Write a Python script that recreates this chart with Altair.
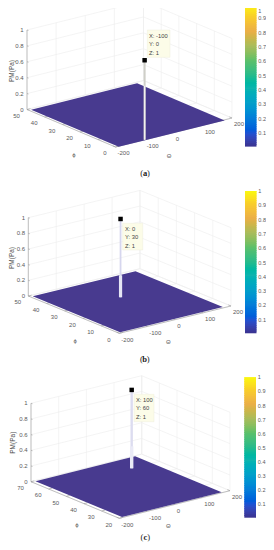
import altair as alt
import numpy as np
import pandas as pd

# ---- values ----
panels = ["a", "b", "c"]
theta_ticks = [-200, -100, 0, 100, 200]
z_ticks = [0, 0.2, 0.4, 0.6, 0.8, 1]
z_labels = ["0", "0.2", "0.4", "0.6", "0.8", "1"]
phi_ticks = {"a": [0, 10, 20, 30, 40, 50], "b": [0, 10, 20, 30, 40, 50], "c": [20, 30, 40, 50, 60, 70]}
cb_ticks = [0.1, 0.2, 0.3, 0.4, 0.5, 0.6, 0.7, 0.8, 0.9, 1]
cb_labels = ["0.1", "0.2", "0.3", "0.4", "0.5", "0.6", "0.7", "0.8", "0.9", "1"]
peak_theta = {"a": -100, "b": 0, "c": 100}
peak_phi = {"a": 0, "b": 30, "c": 60}
peak_z = 1
surface_theta = {"a": (-192, 172), "b": (-192, 176), "c": (-187, 173)}
surface_phi = {"a": (-0.5, 49), "b": (0.8, 48.8), "c": (20.5, 69.5)}
cb_stops = [0, .1, .2, .3, .4, .5, .6, .7, .8, .9, 1]
cb_colors = ["#3a3390", "#1555d8", "#0e7fd8", "#0d9fca", "#12b3b0", "#28bb8a",
             "#5cc06a", "#a9bc5c", "#eaae47", "#f8cc2a", "#f9fb0e"]

# ---- page geometry of each 3D view (front corner, axis vectors) ----
view = {
    "a": dict(F=(115.5, 147.0), U=(116.5, -29.0), V=(-88.5, -37.5), Z=79.5,
              cb=(245.0, 256.5, 4.0, 146.7, 4.0, 133.0), tip=(147.3, 170.0, 30.0, 57.3), tipx=149.0, tipy=35.7,
              ylabel=(12.0, 71.0), phi_t=(74.0, 154.5), theta_t=(169.0, 155.5), cap=145.0, capy=173.0,
              spike=[(0.0, 1.0, 2.0, "#cfcfc8"), (0.0, 0.68, 1.4, "#f2f2ee")]),
    "b": dict(F=(119.3, 333.3), U=(111.7, -27.3), V=(-91.0, -37.3), Z=78.3,
              cb=(245.0, 256.5, 191.0, 333.3, 191.0, 319.7), tip=(122.7, 142.7, 223.3, 250.0), tipx=125.0, tipy=228.7,
              ylabel=(12.0, 258.0), phi_t=(75.3, 340.7), theta_t=(168.3, 341.7), cap=144.7, capy=358.7,
              spike=[(0.0, 1.0, 1.8, "#d6d6ee"), (0.0, 0.28, 3.2, "#e6e6f4")]),
    "c": dict(F=(119.3, 518.3), U=(110.7, -27.6), V=(-88.3, -36.6), Z=78.4,
              cb=(244.3, 256.0, 377.3, 517.7, 377.3, 504.3), tip=(134.0, 154.0, 394.3, 421.7), tipx=136.0, tipy=399.7,
              ylabel=(12.7, 442.7), phi_t=(77.0, 525.0), theta_t=(168.3, 525.7), cap=145.3, capy=536.5,
              spike=[(0.0, 1.0, 2.4, "#dcdcf0"), (0.0, 0.28, 3.4, "#eaeaf6")]),
}
cap_letters = {"a": "a", "b": "b", "c": "c"}
TOP_LIMIT = 11.0


def project(p, theta, phi, z=0.0):
    v = view[p]
    lo, hi = phi_ticks[p][0], phi_ticks[p][-1]
    u = (theta + 200) / 400
    w = (phi - lo) / (hi - lo)
    return (v["F"][0] + u * v["U"][0] + w * v["V"][0],
            v["F"][1] + u * v["U"][1] + w * v["V"][1] - z * v["Z"])


grid, axis_lines, area, spikes, markers, tips, tip_text, cells, labels = [], [], [], [], [], [], [], [], []


def seg(store, p, a, b):
    store.append(dict(panel=p, x=a[0], y=a[1], x2=b[0], y2=b[1]))


for p in panels:
    v = view[p]
    plo, phi_hi = phi_ticks[p][0], phi_ticks[p][-1]
    # gridlines on floor and the two back walls
    for t in theta_ticks:
        seg(grid, p, project(p, t, plo), project(p, t, phi_hi))
        seg(grid, p, project(p, t, phi_hi), project(p, t, phi_hi, 1))
    for f in phi_ticks[p]:
        seg(grid, p, project(p, -200, f), project(p, 200, f))
        seg(grid, p, project(p, 200, f), project(p, 200, f, 1))
    for z in z_ticks:
        seg(grid, p, project(p, -200, phi_hi, z), project(p, 200, phi_hi, z))
        seg(grid, p, project(p, 200, phi_hi, z), project(p, 200, plo, z))
    # axis lines and ticks
    seg(axis_lines, p, project(p, -200, phi_hi), project(p, -200, plo))
    seg(axis_lines, p, project(p, -200, plo), project(p, 200, plo))
    seg(axis_lines, p, project(p, -200, phi_hi), project(p, -200, phi_hi, 1))
    for z, lab in zip(z_ticks, z_labels):
        a = project(p, -200, phi_hi, z)
        seg(axis_lines, p, a, (a[0] + 1.5, a[1] + 0.4))
        labels.append(dict(panel=p, x=a[0] - 3.3, y=a[1], text=lab, kind="z"))
    for t in theta_ticks:
        a = project(p, t, plo)
        seg(axis_lines, p, a, project(p, t, plo + 0.03 * (phi_hi - plo)))
        labels.append(dict(panel=p, x=a[0] + 2.0, y=a[1] + 6.3, text=str(t), kind="t"))
    for f in phi_ticks[p]:
        a = project(p, -200, f)
        seg(axis_lines, p, a, project(p, -188, f))
        labels.append(dict(panel=p, x=a[0] - 10.5, y=a[1] + 6.3, text=str(f), kind="f"))
    labels.append(dict(panel=p, x=v["phi_t"][0], y=v["phi_t"][1], text="\u03d5", kind="f"))
    labels.append(dict(panel=p, x=v["theta_t"][0], y=v["theta_t"][1], text="\u0398", kind="f"))

    # the flat surface, as the band between its upper and lower edges
    t0, t1 = surface_theta[p]
    f0, f1 = surface_phi[p]
    L, Fr, B, R = project(p, t0, f1), project(p, t0, f0), project(p, t1, f1), project(p, t1, f0)
    xs = sorted([L[0], Fr[0], B[0], R[0]])
    top = np.interp(xs, [L[0], B[0], R[0]], [L[1], B[1], R[1]])
    bot = np.interp(xs, [L[0], Fr[0], R[0]], [L[1], Fr[1], R[1]])
    for x, a, b in zip(xs, top, bot):
        area.append(dict(panel=p, x=x, y=a, y2=b))

    # the peak
    for k, (z0, z1, w, c) in enumerate(v["spike"]):
        a = project(p, peak_theta[p], peak_phi[p], z0)
        b = project(p, peak_theta[p], peak_phi[p], z1 * peak_z)
        spikes.append(dict(panel=p + str(k), order=k, x=a[0], y=a[1], x2=b[0], y2=b[1], w=w, c=c))
    m = project(p, peak_theta[p], peak_phi[p], peak_z)
    markers.append(dict(panel=p, x=m[0], y=m[1]))

    # data tip
    tx0, tx1, ty0, ty1 = v["tip"]
    tips.append(dict(panel=p, x=tx0, x2=tx1, y=ty0, y2=ty1))
    for i, s in enumerate([f"X: {peak_theta[p]}", f"Y: {peak_phi[p]}", f"Z: {peak_z}"]):
        tip_text.append(dict(panel=p, x=v["tipx"], y=v["tipy"] + i * 8.65, text=s))

    # colour bar
    cx0, cx1, cy0, cy1, ctop, c01 = v["cb"]
    k = (c01 - ctop) / 0.9
    levels = np.arange(0.005, 1.0, 0.0125)
    for lev in levels:
        ya = ctop + (1 - lev) * k
        yb = ctop + (1 - min(lev + 0.02, 1)) * k
        cells.append(dict(panel=p, x=cx0, x2=cx1, y=min(ya, cy1), y2=yb, val=float(lev)))
    for tick, lab in zip(cb_ticks, cb_labels):
        labels.append(dict(panel=p, x=cx1 + 1.8, y=max(ctop + (1 - tick) * k, TOP_LIMIT), text=lab, kind="c"))

df_grid = pd.DataFrame(grid)
df_axis = pd.DataFrame(axis_lines)
df_area = pd.DataFrame(area)
df_spike = pd.DataFrame(spikes)
df_mark = pd.DataFrame(markers)
df_tips = pd.DataFrame(tips)
df_tt = pd.DataFrame(tip_text)
df_cells = pd.DataFrame(cells)
df_lab = pd.DataFrame(labels)
df_y = pd.DataFrame([dict(x=view[p]["ylabel"][0], y=view[p]["ylabel"][1], text="PM(Pa)") for p in panels])
df_cap1 = pd.DataFrame([dict(x=view[p]["cap"] - 3.4, y=view[p]["capy"], text="(") for p in panels]
                       + [dict(x=view[p]["cap"] + 3.4, y=view[p]["capy"], text=")") for p in panels])
df_cap2 = pd.DataFrame([dict(x=view[p]["cap"], y=view[p]["capy"], text=cap_letters[p]) for p in panels])

X = alt.X("x:Q", scale=alt.Scale(domain=[8, 266], nice=False, zero=False), axis=None)
Y = alt.Y("y:Q", scale=alt.Scale(domain=[542, 8], nice=False, zero=False), axis=None)
X2 = alt.X2("x2:Q")
Y2 = alt.Y2("y2:Q")
FONT = "Liberation Sans"


def rules(df, color, width):
    return alt.Chart(df).mark_rule(color=color, strokeWidth=width).encode(x=X, y=Y, x2=X2, y2=Y2)


def text(df, align, size, color, font=FONT, **kw):
    return alt.Chart(df).mark_text(align=align, baseline="middle", fontSize=size, color=color, font=font, **kw).encode(
        x=X, y=Y, text="text:N")


layers = [
    rules(df_grid, "#ececec", 0.6),
    rules(df_axis, "#9a9a9a", 0.6),
    alt.Chart(df_area).mark_area(color="#483a8f", opacity=1).encode(x=X, y=Y, y2=Y2, detail="panel:N"),
    alt.Chart(df_spike).mark_rule().encode(
        x=X, y=Y, x2=X2, y2=Y2,
        strokeWidth=alt.StrokeWidth("w:Q", scale=None),
        color=alt.Color("c:N", scale=None),
        order=alt.Order("order:Q"),
    ),
    alt.Chart(df_tips).mark_rect(fill="#fcfce8", stroke="#eeeedc", strokeWidth=0.5).encode(x=X, y=Y, x2=X2, y2=Y2),
    alt.Chart(df_mark).mark_point(shape="square", filled=True, size=20, color="#000000", opacity=1).encode(x=X, y=Y),
    alt.Chart(df_cells).mark_rect().encode(
        x=X, y=Y, x2=X2, y2=Y2,
        color=alt.Color("val:Q", scale=alt.Scale(domain=cb_stops, range=cb_colors, clamp=True), legend=None),
    ),
    text(df_tt, "left", 5.8, "#444444"),
    text(df_lab[df_lab.kind == "z"], "right", 6, "#5a5a5a"),
    text(df_lab[df_lab.kind == "t"], "left", 6, "#5a5a5a"),
    text(df_lab[df_lab.kind == "f"], "center", 6, "#5a5a5a"),
    text(df_lab[df_lab.kind == "c"], "left", 5.5, "#5a5a5a"),
    text(df_y, "center", 6.5, "#4a4a4a", angle=270),
    text(df_cap1, "center", 8.5, "#222222", font="Liberation Serif"),
    text(df_cap2, "center", 8.5, "#222222", font="Liberation Serif", fontWeight="bold"),
]

chart = alt.layer(*layers).properties(
    width=258, height=534, padding=0, background="white",
    autosize=alt.AutoSizeParams(type="none", contains="padding"),
).configure_view(strokeWidth=0)

chart.save("out.html", embed_options={"renderer": "svg", "actions": False})
